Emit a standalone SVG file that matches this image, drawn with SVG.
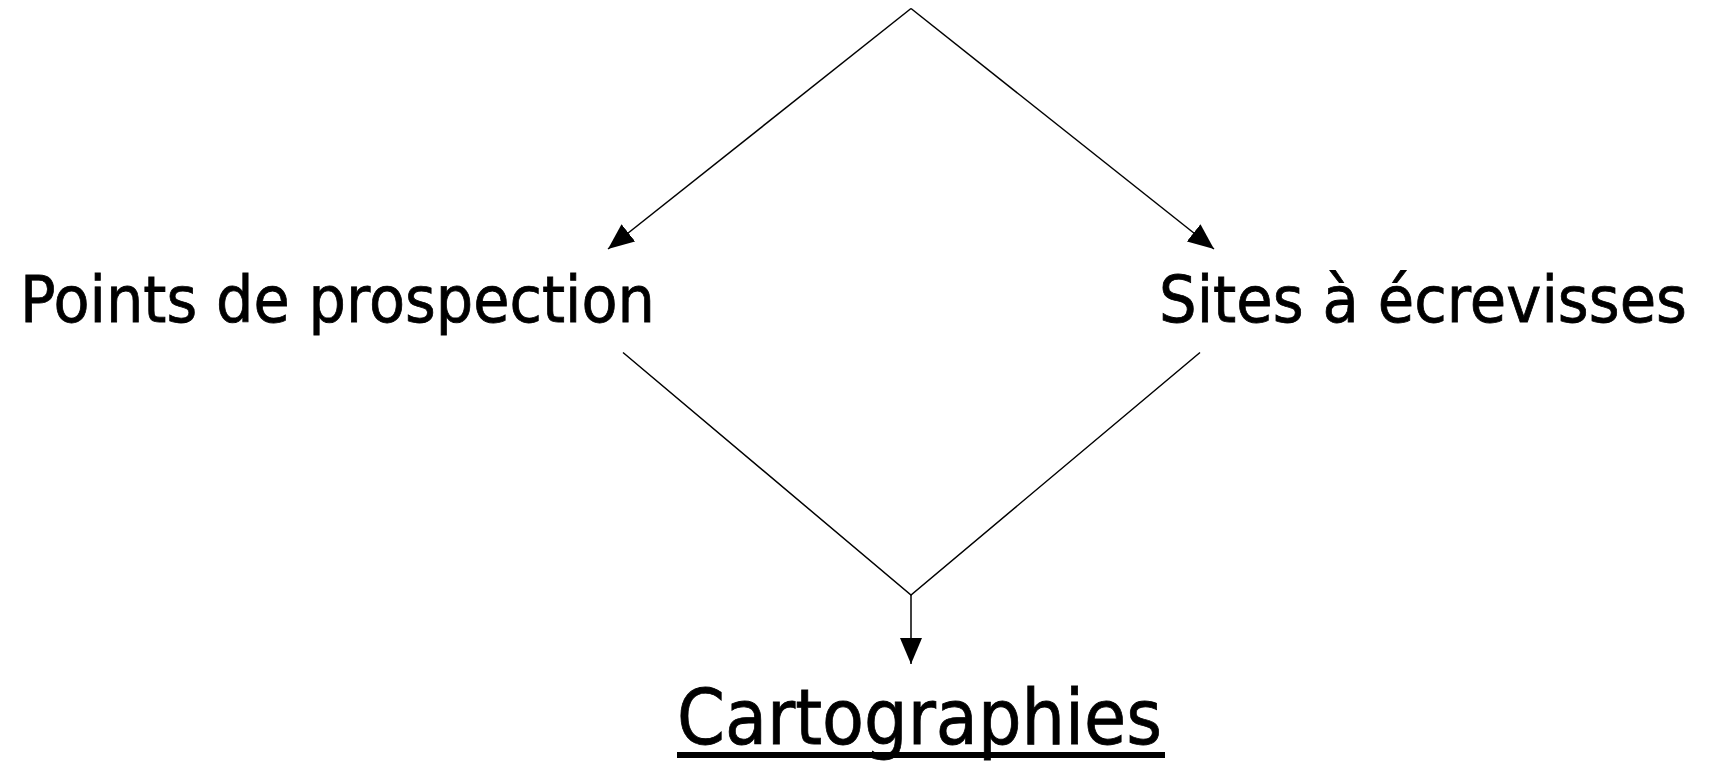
<svg xmlns="http://www.w3.org/2000/svg" width="1711" height="764" viewBox="0 0 1711 764">
<style>
.lbl{font-family:"Comic Sans MS","DejaVu Sans","Liberation Sans",sans-serif;fill:#000;stroke:#000;stroke-width:0.8}
.ln{stroke:#000;stroke-width:1.5;fill:none}
</style>
<defs>
<marker id="ah" markerWidth="26" markerHeight="22" refX="26" refY="11" orient="auto" markerUnits="userSpaceOnUse">
<path d="M0,0 L26,11 L0,22 Z" fill="#000"/>
</marker>
</defs>
<rect width="1711" height="764" fill="#fff"/>
<g id="connectors">
<line class="ln" x1="911" y1="8.5" x2="608" y2="249" marker-end="url(#ah)"/>
<line class="ln" x1="911" y1="8.5" x2="1214" y2="249" marker-end="url(#ah)"/>
<polyline class="ln" points="623,352.5 911,595 1200,352.5"/>
<line class="ln" x1="911" y1="595" x2="911" y2="664" marker-end="url(#ah)"/>
</g>
<g id="node-points">
<text class="lbl" x="20" y="322" font-size="64" textLength="635" lengthAdjust="spacingAndGlyphs">Points de prospection</text>
</g>
<g id="node-sites">
<text class="lbl" x="1159" y="322" font-size="64" textLength="528" lengthAdjust="spacingAndGlyphs">Sites à écrevisses</text>
</g>
<g id="node-cartographies">
<text class="lbl" x="677" y="744" font-size="76" textLength="485" lengthAdjust="spacingAndGlyphs">Cartographies</text>
<rect x="677" y="752" width="488" height="6" fill="#000"/>
</g>
</svg>
